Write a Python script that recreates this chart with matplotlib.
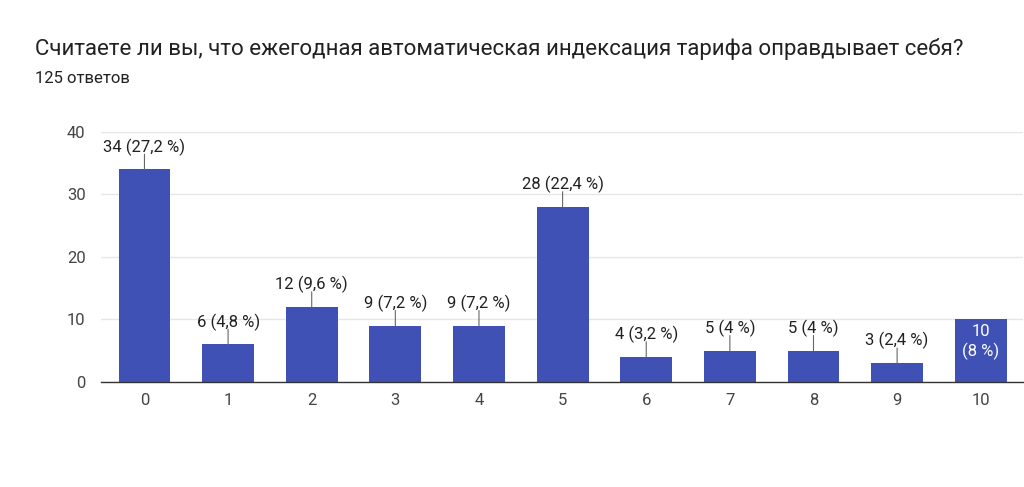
import matplotlib
matplotlib.use("Agg")
import matplotlib.pyplot as plt

categories = ["0", "1", "2", "3", "4", "5", "6", "7", "8", "9", "10"]
counts = [34, 6, 12, 9, 9, 28, 4, 5, 5, 3, 10]
percents = ["27,2", "4,8", "9,6", "7,2", "7,2", "22,4", "3,2", "4", "4", "2,4", "8"]
title = "Считаете ли вы, что ежегодная автоматическая индексация тарифа оправдывает себя?"
subtitle = "125 ответов"
yticks = [0, 10, 20, 30, 40]

plt.rcParams['font.family'] = ['Roboto', 'DejaVu Sans']
text_color = "#212121"
bar_color = "#3f51b5"

fig = plt.figure(figsize=(10.24, 4.87), dpi=100)
ax = fig.add_axes([0.0986, 0.2156, 0.9, 0.5134])

x = list(range(len(categories)))
ax.bar(x, counts, width=0.62, color=bar_color, zorder=3)
ax.set_xlim(-0.52, 10.5)
ax.set_ylim(0, 40)
ax.set_yticks(yticks)
ax.set_xticks(x)
ax.set_xticklabels(categories)
ax.tick_params(axis='both', length=0, labelsize=12, colors="#444444", pad=8)
ax.tick_params(axis='y', pad=11)
ax.grid(axis='y', color="#e6e6e6", linewidth=1, zorder=0)
for s in ['top', 'right', 'left']:
    ax.spines[s].set_visible(False)
ax.spines['bottom'].set_color("#333333")
ax.spines['bottom'].set_linewidth(1)
ax.spines['bottom'].set_zorder(4)

last = len(categories) - 1
for xi, c, p in zip(x, counts, percents):
    if xi == last:
        ax.annotate(f"{c}\n({p} %)", xy=(xi, c), xytext=(0, -3), textcoords='offset points',
                    ha='center', va='top', color='white', fontsize=12,
                    linespacing=1.3, zorder=5)
    else:
        ax.annotate("", xy=(xi, c), xytext=(0, 11), textcoords='offset points',
                    xycoords='data',
                    arrowprops=dict(arrowstyle='-', color="#666666", lw=0.8,
                                    shrinkA=0, shrinkB=0), zorder=4)
        ax.annotate(f"{c} ({p} %)", xy=(xi, c), xytext=(0, 10), textcoords='offset points',
                    ha='center', va='bottom', fontsize=12, color=text_color, zorder=5)

fig.text(0.034, 0.900, title, fontsize=16, color=text_color, ha='left', va='center')
fig.text(0.034, 0.838, subtitle, fontsize=12, color=text_color, ha='left', va='center')

fig.savefig("out.png", dpi=100, facecolor='white')
